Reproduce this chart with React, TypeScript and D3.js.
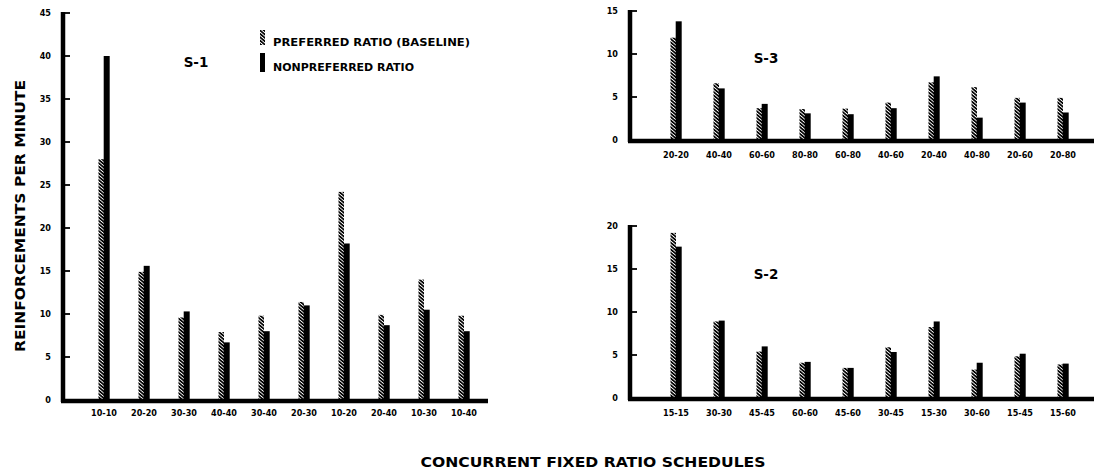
import React from "react";
import * as d3 from "d3";

const s1Categories = ["10-10", "20-20", "30-30", "40-40", "30-40", "20-30", "10-20", "20-40", "10-30", "10-40"];
const s1Preferred = [28, 14.9, 9.6, 7.9, 9.8, 11.4, 24.2, 9.9, 14.0, 9.8];
const s1Nonpreferred = [40, 15.6, 10.3, 6.7, 8.0, 11.0, 18.2, 8.7, 10.5, 8.0];
const s1Ticks = [0, 5, 10, 15, 20, 25, 30, 35, 40, 45];

const s3Categories = ["20-20", "40-40", "60-60", "80-80", "60-80", "40-60", "20-40", "40-80", "20-60", "20-80"];
const s3Preferred = [11.9, 6.6, 3.7, 3.6, 3.65, 4.35, 6.7, 6.15, 4.9, 4.9];
const s3Nonpreferred = [13.8, 6.0, 4.2, 3.1, 3.0, 3.7, 7.4, 2.6, 4.35, 3.2];
const s3Ticks = [0, 5, 10, 15];

const s2Categories = ["15-15", "30-30", "45-45", "60-60", "45-60", "30-45", "15-30", "30-60", "15-45", "15-60"];
const s2Preferred = [19.2, 8.9, 5.4, 4.1, 3.5, 5.9, 8.25, 3.3, 4.85, 3.9];
const s2Nonpreferred = [17.6, 9.0, 6.0, 4.2, 3.5, 5.35, 8.9, 4.1, 5.15, 4.0];
const s2Ticks = [0, 5, 10, 15, 20];

const legendLabels = ["PREFERRED RATIO (BASELINE)", "NONPREFERRED RATIO"];

const FONT = "'DejaVu Sans', sans-serif";
const FONT_C = "'DejaVu Sans Condensed', 'DejaVu Sans', sans-serif";

type PanelProps = {
  categories: string[];
  preferred: number[];
  nonpreferred: number[];
  ticks: number[];
  axisX: number;
  xRange: [number, number];
  yDomainMax: number;
  yRange: [number, number];
  baseEnd: number;
  labelY: number;
  title: string;
  titleX: number;
  titleY: number;
};

function Panel(p: PanelProps) {
  const x = d3.scaleBand<string>().domain(p.categories).range(p.xRange);
  const y = d3.scaleLinear().domain([0, p.yDomainMax]).range(p.yRange);
  const bw = 5.5;
  const y0 = y(0);
  return (
    <g>
      {p.categories.map((c, i) => {
        const cx = (x(c) as number) + x.bandwidth() / 2;
        const yp = y(p.preferred[i]);
        const yn = y(p.nonpreferred[i]);
        return (
          <g key={c}>
            <rect x={cx - bw} y={yp} width={bw} height={y0 - yp} fill="url(#hatch)" />
            <rect x={cx - 0.3} y={yn} width={bw + 0.5} height={y0 - yn} fill="#000" />
          </g>
        );
      })}
      <line x1={p.axisX} x2={p.axisX} y1={p.yRange[1] - 1} y2={y0 + 2} stroke="#000" strokeWidth={4.5} />
      <line x1={p.axisX - 2} x2={p.baseEnd} y1={y0 + 1} y2={y0 + 1} stroke="#000" strokeWidth={4.5} />
      {p.ticks.map((t) => (
        <g key={t}>
          {t > 0 && (
            <line x1={p.axisX} x2={p.axisX + 7} y1={y(t)} y2={y(t)} stroke="#000" strokeWidth={1.8} />
          )}
          <text
            x={p.axisX - 12}
            y={y(t) + 3.2}
            textAnchor="end"
            fontFamily={FONT_C}
            fontWeight="bold"
            fontSize={9}
          >
            {t}
          </text>
        </g>
      ))}
      {p.categories.map((c) => (
        <text
          key={c}
          x={(x(c) as number) + x.bandwidth() / 2}
          y={p.labelY}
          textAnchor="middle"
          fontFamily={FONT_C}
          fontWeight="bold"
          fontSize={9}
        >
          {c}
        </text>
      ))}
      <text x={p.titleX} y={p.titleY} textAnchor="middle" fontFamily={FONT} fontWeight="bold" fontSize={13.5}>
        {p.title}
      </text>
    </g>
  );
}

export default function App() {
  return (
    <svg
      width={1101}
      height={472}
      viewBox="0 0 1101 472"
      style={{ position: "absolute", left: 0, top: 0, background: "#fff" }}
    >
      <defs>
        <pattern id="hatch" patternUnits="userSpaceOnUse" width={2.6} height={2.6} patternTransform="rotate(-50)">
          <rect width={2.6} height={2.6} fill="#fff" />
          <rect width={1.7} height={2.6} fill="#000" />
        </pattern>
      </defs>
      <rect width={1101} height={472} fill="#fff" />

      <Panel
        categories={s1Categories}
        preferred={s1Preferred}
        nonpreferred={s1Nonpreferred}
        ticks={s1Ticks}
        axisX={63}
        xRange={[84, 484]}
        yDomainMax={45}
        yRange={[400, 13]}
        baseEnd={488}
        labelY={416}
        title="S-1"
        titleX={196}
        titleY={67}
      />
      <Panel
        categories={s3Categories}
        preferred={s3Preferred}
        nonpreferred={s3Nonpreferred}
        ticks={s3Ticks}
        axisX={630}
        xRange={[654.5, 1084.5]}
        yDomainMax={15}
        yRange={[140, 11]}
        baseEnd={1094}
        labelY={158}
        title="S-3"
        titleX={766}
        titleY={63}
      />
      <Panel
        categories={s2Categories}
        preferred={s2Preferred}
        nonpreferred={s2Nonpreferred}
        ticks={s2Ticks}
        axisX={630}
        xRange={[654.5, 1084.5]}
        yDomainMax={20}
        yRange={[398, 226]}
        baseEnd={1094}
        labelY={416}
        title="S-2"
        titleX={766}
        titleY={279}
      />

      <rect x={260} y={30} width={5} height={15} fill="url(#hatch)" />
      <rect x={260} y={53} width={5} height={19} fill="#000" />
      <text x={273} y={46} fontFamily={FONT} fontWeight="bold" fontSize={10.5} textLength={197} lengthAdjust="spacingAndGlyphs">
        {legendLabels[0]}
      </text>
      <text x={273} y={71} fontFamily={FONT} fontWeight="bold" fontSize={10.5} textLength={141} lengthAdjust="spacingAndGlyphs">
        {legendLabels[1]}
      </text>

      <text
        transform="translate(25,216) rotate(-90)"
        textAnchor="middle"
        fontFamily={FONT}
        fontWeight="bold"
        fontSize={13.5}
        textLength={272}
        lengthAdjust="spacingAndGlyphs"
      >
        REINFORCEMENTS PER MINUTE
      </text>
      <text
        x={593}
        y={467}
        textAnchor="middle"
        fontFamily={FONT}
        fontWeight="bold"
        fontSize={13.5}
        textLength={345}
        lengthAdjust="spacingAndGlyphs"
      >
        CONCURRENT FIXED RATIO SCHEDULES
      </text>
    </svg>
  );
}
